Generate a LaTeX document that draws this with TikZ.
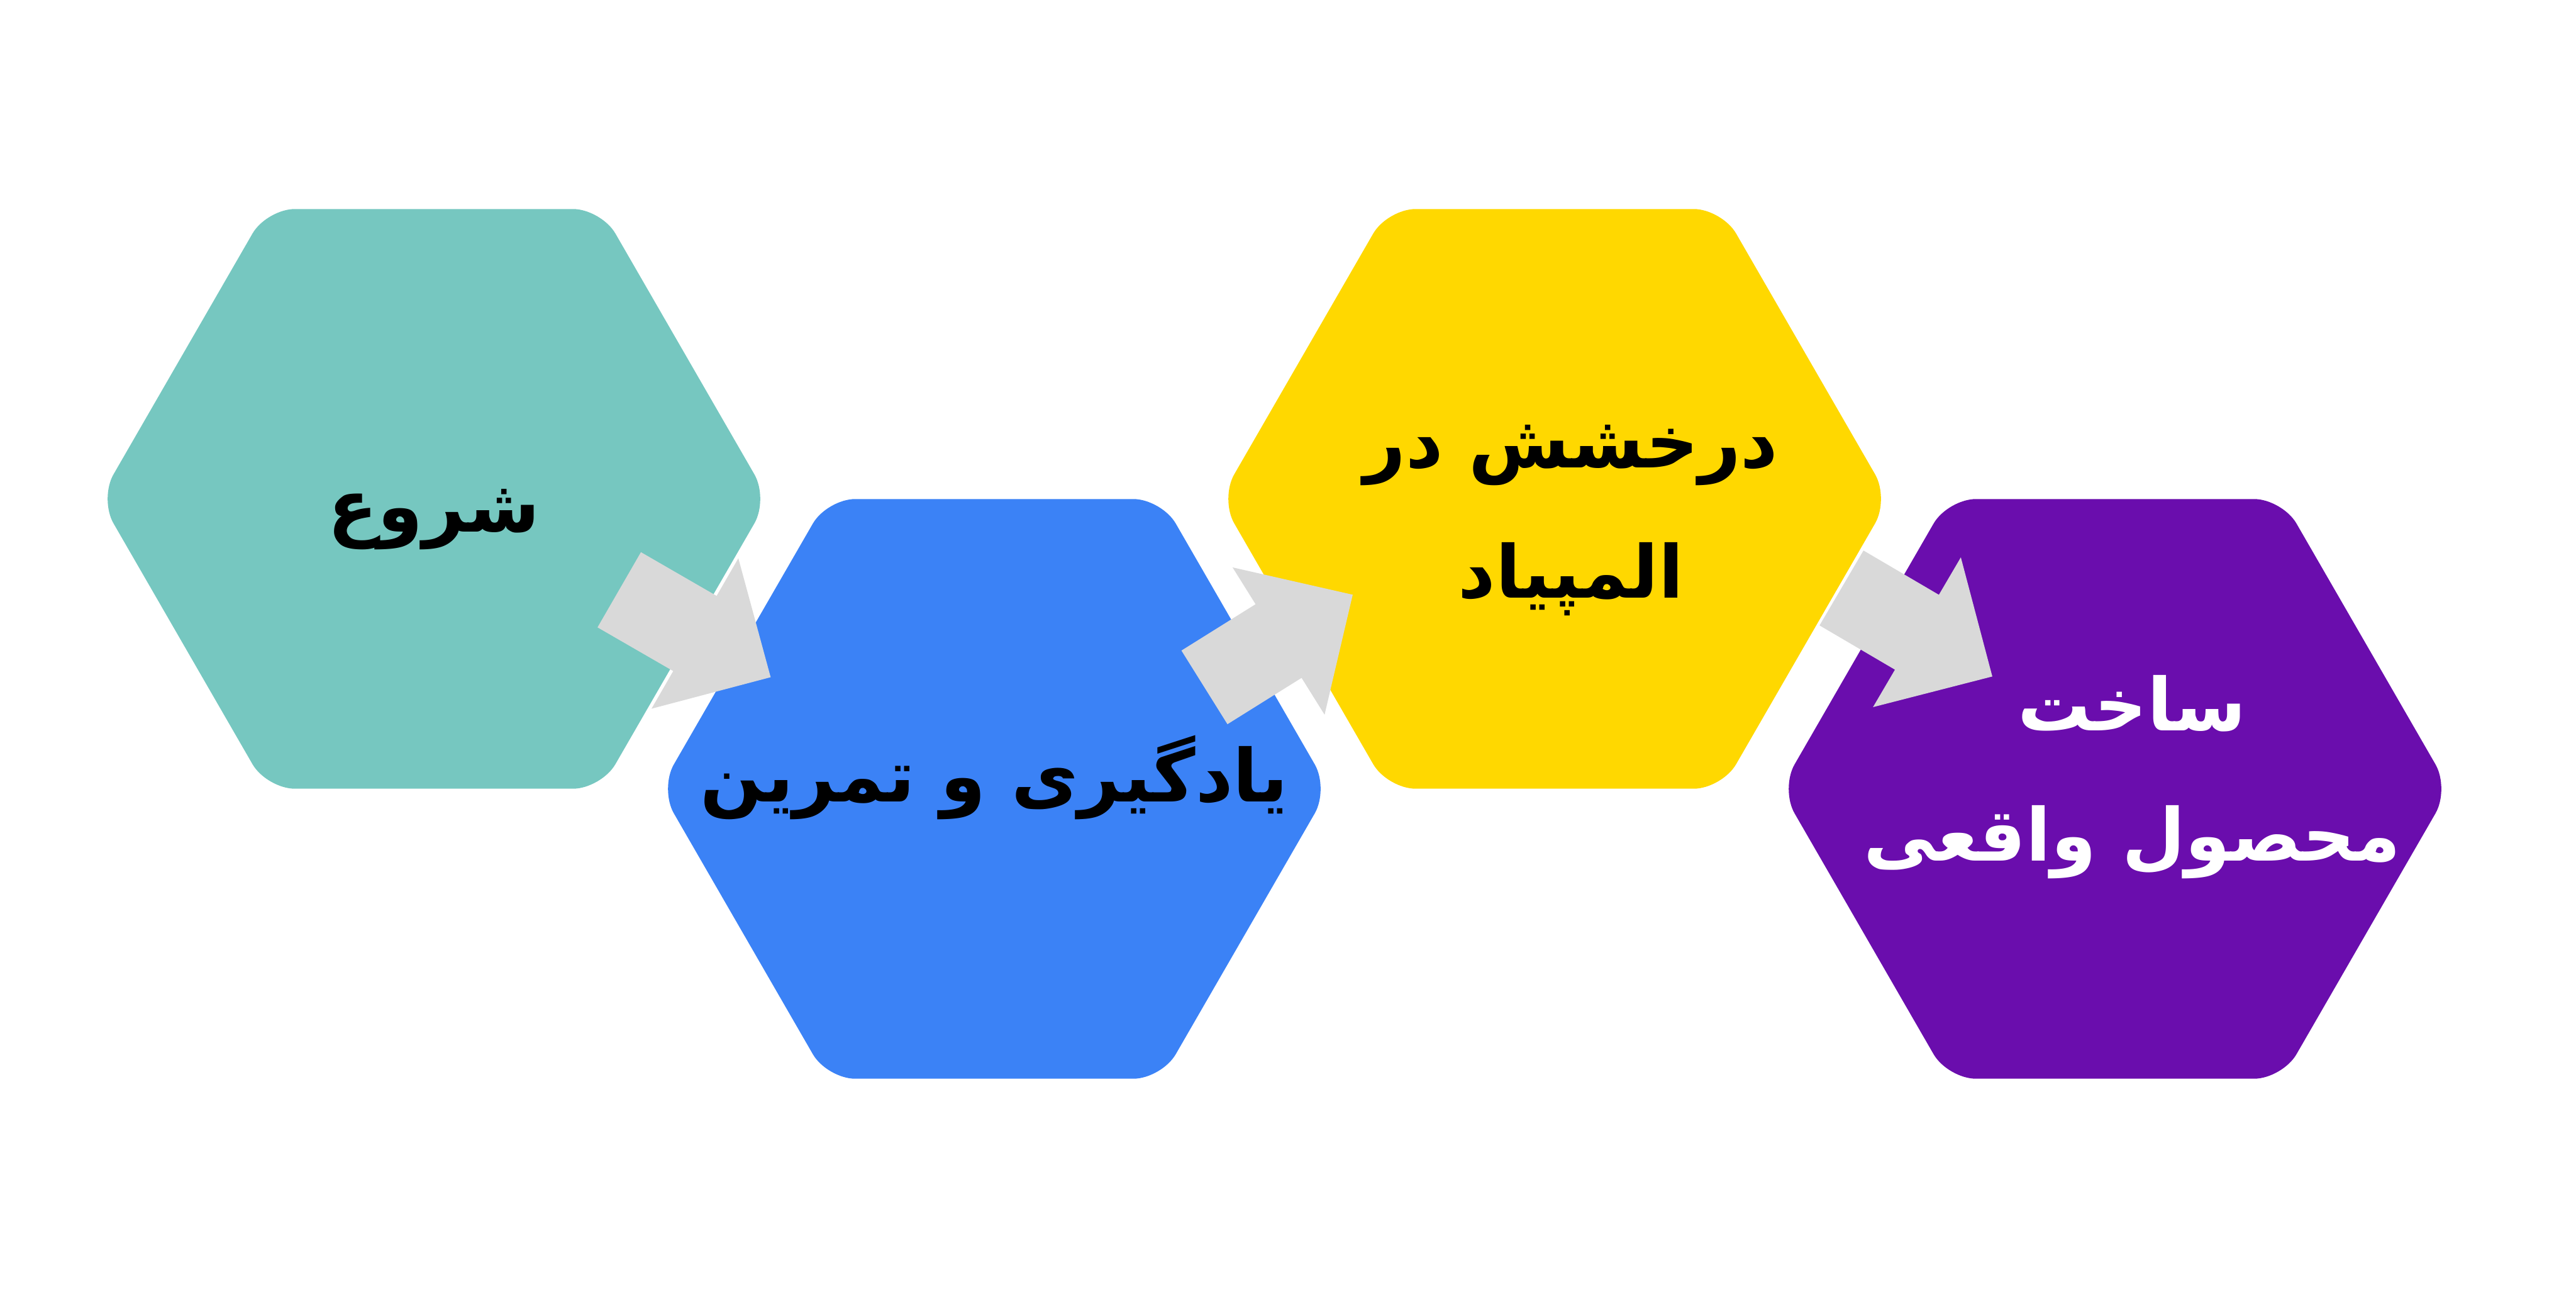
\documentclass[tikz,border=0pt]{standalone}
\usepackage{fontspec}
\usepackage{tikz}
\usetikzlibrary{shapes.geometric,calc}
\newfontfamily\farsi[Script=Arabic]{DejaVu Sans}
\TeXXeTstate=1

\definecolor{hexteal}{HTML}{76C7C0}
\definecolor{hexblue}{HTML}{3B82F6}
\definecolor{hexgold}{HTML}{FFD800}
\definecolor{hexpurple}{HTML}{6A0DAD}
\definecolor{arrowgrey}{HTML}{D9D9D9}

\tikzset{
	hexa/.style={regular polygon, regular polygon sides=6,
		minimum size=10.64cm, inner sep=0pt, draw=none, rounded corners=0.45cm},
	step text/.style={font=\farsi\bfseries\fontsize{33}{59}\selectfont, align=center, inner sep=0pt},
	block arrow/.style={fill=arrowgrey, draw=none}
}

\begin{document}
\begin{tikzpicture}
	\path[use as bounding box, fill=white] (0,0) rectangle (40.96,20.48);
	
	\node[hexa, fill=hexteal] (start) at (6.90,12.55) {};
	\node[hexa, fill=hexblue] (learn) at (15.81,7.94) {};
	\node[hexa, fill=hexgold] (olymp) at (24.72,12.55) {};
	\node[hexa, fill=hexpurple] (product) at (33.63,7.94) {};
	
	% grey block arrows between the steps
	\foreach \x/\y/\a in {11.05/10.41/-30, 20.33/10.29/32, 30.48/10.43/-30.4}
		\fill[block arrow, shift={(\x,\y)}, rotate=\a]
			(-1.39,0.69) -- (0,0.69) -- (0,1.38) -- (1.39,0) -- (0,-1.38) -- (0,-0.69) -- (-1.39,-0.69) -- cycle;
	
	\node[step text] (t1) at ($(start)+(0,-0.33)$) {\beginR شروع\endR};
	\node[step text] (t2) at ($(learn)+(0,0.18)$) {\beginR یادگیری و تمرین\endR};
	\node[step text] (t3) at ($(olymp)+(0.26,-0.34)$) {\beginR درخشش در\endR\\\beginR المپیاد\endR};
	\node[step text, text=white] (t4) at ($(product)+(0.27,0.19)$) {\beginR ساخت\endR\\\beginR محصول واقعی\endR};
\end{tikzpicture}
\end{document}
